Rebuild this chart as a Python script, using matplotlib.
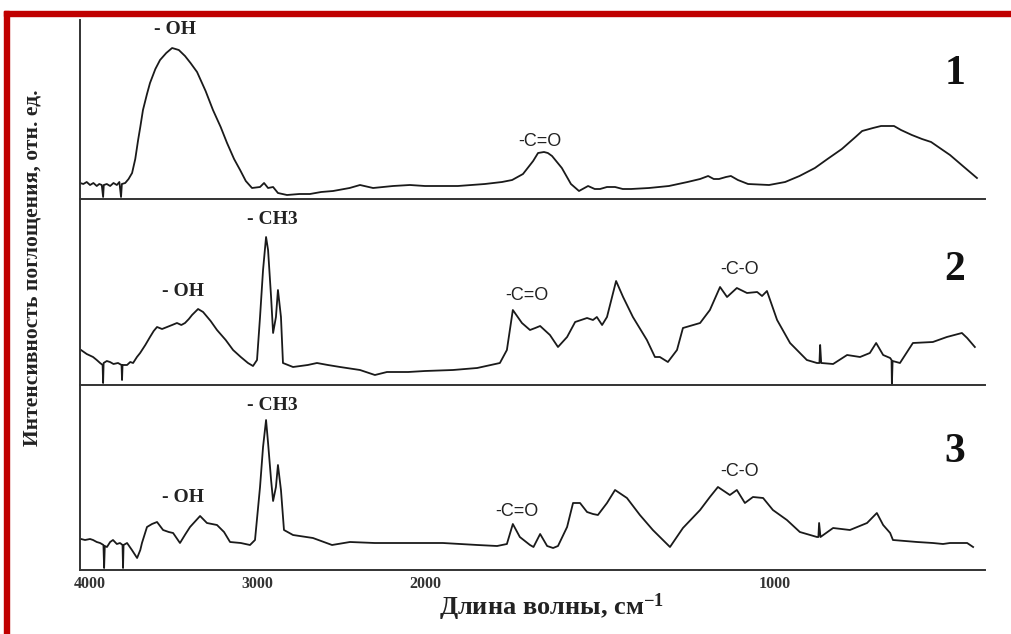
import numpy as np
import matplotlib
matplotlib.use('Agg')
import matplotlib.pyplot as plt
from matplotlib.patches import Rectangle

plt.rcParams['font.family'] = ['Liberation Serif', 'DejaVu Serif']
plt.rcParams['mathtext.fontset'] = 'custom'
plt.rcParams['mathtext.rm'] = 'Liberation Serif:bold'
plt.rcParams['mathtext.default'] = 'rm'

# spectrum 1 (wavenumber, cm-1 / absorbance, rel. units)
wn1 = [4060, 4040, 4020, 4000, 3980, 3960, 3945, 3930, 3922, 3918, 3900, 3880, 3860, 3840,
       3825, 3815, 3810, 3790, 3770, 3749, 3730, 3713, 3700, 3684, 3660, 3642, 3610, 3582,
       3545, 3510, 3470, 3433, 3400, 3361, 3310, 3266, 3220, 3182, 3140, 3104, 3070, 3033,
       2985, 2961, 2937, 2907, 2878, 2824, 2750, 2687, 2620, 2549, 2450, 2388, 2310, 2191,
       2090, 2000, 1906, 1829, 1780, 1751, 1720, 1691, 1677, 1660, 1649, 1637, 1609, 1583,
       1560, 1534, 1515, 1500, 1480, 1457, 1435, 1411, 1360, 1303, 1250, 1214, 1191, 1175,
       1160, 1140, 1126, 1106, 1077, 1017, 971, 930, 886, 850, 809, 770, 751, 720, 697, 660,
       640, 609, 580, 554, 525, 500, 460, 423]
ab1 = [16, 15, 17, 14, 16, 13, 15, 14, 2, 14, 15, 13, 16, 14,
       17, 2, 15, 16, 20, 26, 40, 59, 72, 89, 105, 116, 130, 139,
       146, 151, 149, 143, 136, 127, 108, 89, 72, 56, 40, 29, 18, 11,
       12, 16, 11, 12, 6, 4, 5, 5, 7, 8, 11, 14, 11, 13,
       14, 13, 13, 15, 17, 19, 25, 38, 46, 47, 46, 43, 31, 15,
       8, 13, 10, 10, 12, 12, 10, 10, 11, 13, 17, 20, 23, 20,
       20, 22, 23, 19, 15, 14, 17, 23, 31, 40, 50, 62, 68, 71, 73, 73,
       69, 64, 60, 57, 50, 44, 32, 21]

# spectrum 2
wn2 = [4054, 4020, 3982, 3960, 3940, 3925, 3922, 3919, 3900, 3881, 3860, 3833, 3812, 3809,
       3806, 3779, 3760, 3743, 3720, 3701, 3670, 3642, 3620, 3600, 3570, 3540, 3510, 3481,
       3455, 3433, 3410, 3391, 3355, 3325, 3280, 3242, 3190, 3146, 3100, 3057, 3027, 3003,
       2985, 2967, 2949, 2937, 2919, 2907, 2890, 2878, 2860, 2848, 2788, 2700, 2645, 2580,
       2507, 2388, 2299, 2227, 2100, 2000, 1920, 1851, 1786, 1766, 1749, 1723, 1700, 1685,
       1671, 1643, 1620, 1594, 1571, 1537, 1520, 1509, 1494, 1480, 1454, 1434, 1406, 1366,
       1343, 1329, 1306, 1280, 1263, 1214, 1186, 1157, 1137, 1109, 1080, 1051, 1037, 1023,
       994, 957, 909, 880, 873, 871, 868, 834, 794, 757, 729, 711, 691, 671, 667, 666, 664,
       643, 606, 549, 509, 466, 451, 429]
ab2 = [35, 31, 28, 25, 22, 20, 2, 22, 24, 23, 21, 22, 20, 5,
       20, 20, 23, 22, 28, 32, 40, 48, 54, 58, 56, 58, 60, 62,
       60, 62, 66, 70, 76, 73, 64, 55, 45, 35, 28, 22, 19, 25,
       68, 115, 148, 135, 88, 52, 68, 95, 68, 22, 18, 20, 22, 20,
       18, 15, 10, 13, 13, 14, 15, 17, 22, 35, 75, 62, 55, 57,
       59, 50, 38, 48, 63, 67, 65, 68, 60, 68, 104, 88, 68, 45,
       28, 28, 23, 35, 57, 62, 75, 98, 88, 97, 92, 93, 89, 94,
       65, 42, 25, 22, 22, 40, 22, 21, 30, 28, 32, 42, 30, 27, 25, 0, 24,
       22, 42, 43, 48, 52, 47, 38]

# spectrum 3
wn3 = [4054, 4030, 4000, 3982, 3960, 3940, 3920, 3916, 3912, 3899, 3880, 3863, 3840, 3821,
       3806, 3803, 3800, 3779, 3750, 3719, 3700, 3690, 3660, 3630, 3600, 3564, 3530, 3504,
       3463, 3430, 3403, 3343, 3302, 3242, 3200, 3164, 3100, 3045, 3015, 2985, 2967, 2949,
       2937, 2919, 2907, 2890, 2878, 2860, 2842, 2788, 2669, 2555, 2448, 2300, 2191, 2050,
       1949, 1850, 1794, 1766, 1749, 1729, 1700, 1690, 1671, 1651, 1634, 1620, 1594, 1577,
       1557, 1537, 1520, 1506, 1480, 1457, 1423, 1386, 1349, 1300, 1263, 1214, 1186, 1163,
       1129, 1109, 1086, 1063, 1034, 1006, 966, 929, 880, 876, 874, 870, 834, 786, 737, 709,
       691, 671, 663, 594, 549, 520, 500, 451, 434]
ab3 = [31, 30, 31, 30, 28, 27, 25, 2, 24, 23, 28, 30, 26, 27,
       25, 2, 25, 27, 20, 12, 20, 27, 43, 46, 48, 40, 38, 37,
       27, 36, 43, 54, 47, 45, 38, 28, 27, 25, 30, 83, 123, 150,
       127, 90, 69, 83, 105, 80, 40, 35, 32, 25, 28, 27, 27, 27,
       27, 25, 24, 26, 46, 33, 25, 23, 36, 24, 22, 24, 43, 67,
       67, 58, 56, 55, 67, 80, 72, 55, 40, 23, 42, 60, 73, 83,
       75, 80, 67, 73, 72, 60, 50, 38, 33, 33, 47, 33, 42, 40, 47, 57,
       45, 37, 30, 28, 27, 26, 27, 27, 23]

ticks = [4000, 3000, 2000, 1000]

# labels: (text, wavenumber, height, style)
labels1 = [('- OH', 3493, 169, 'serif'), ('-C=O', 1671, 58, 'sans')]
labels2 = [('- CH3', 2913, 166, 'serif'), ('- OH', 3445, 93, 'serif'),
           ('-C=O', 1709, 89, 'sans'), ('-C-O', 1100, 115, 'sans')]
labels3 = [('- CH3', 2913, 165, 'serif'), ('- OH', 3445, 73, 'serif'),
           ('-C=O', 1737, 58, 'sans'), ('-C-O', 1100, 98, 'sans')]


# x axis is stretched twice below 2000 cm-1
def fwd(w):
    w = np.asarray(w, dtype=float)
    return np.where(w >= 2000, w, 2000 - 2.09 * (2000 - w))


def inv(t):
    t = np.asarray(t, dtype=float)
    return np.where(t >= 2000, t, 2000 - (2000 - t) / 2.09)


W, H = 1011, 634
fig = plt.figure(figsize=(W / 100, H / 100), dpi=100)

# panels in pixels: (top, bottom)
panels = [(20, 199), (199, 385), (385, 570)]
data = [(wn1, ab1, labels1, '1', 125), (wn2, ab2, labels2, '2', 115), (wn3, ab3, labels3, '3', 118)]

x0, x1 = 80, 985
for i, ((top, bot), (wn, ab, labs, num, num_h)) in enumerate(zip(panels, data)):
    ax = fig.add_axes([x0 / W, 1 - bot / H, (x1 - x0) / W, (bot - top) / H])
    ax.set_xscale('function', functions=(fwd, inv))
    ax.set_xlim(4060, 400)
    ax.set_ylim(0, bot - top)
    ax.plot(wn, ab, color='#1a1a1a', lw=1.3)
    for s in ['top', 'right']:
        ax.spines[s].set_visible(False)
    for s in ['left', 'bottom']:
        ax.spines[s].set_color('#333333')
        ax.spines[s].set_linewidth(1.4)
    ax.set_yticks([])
    ax.set_xticks(ticks)
    ax.minorticks_off()
    if i < 2:
        ax.tick_params(axis='x', length=0, labelbottom=False)
    else:
        ax.set_xticklabels([str(t) for t in ticks], fontsize=11.5, fontweight='bold', color='#333333')
        ax.tick_params(axis='x', length=0, pad=4)
    for txt, w, h, st in labs:
        if st == 'serif':
            ax.text(w, h, txt, ha='center', va='center', fontsize=14, fontweight='bold',
                    family=['Liberation Serif'], color='#222222')
        else:
            ax.text(w, h, txt, ha='center', va='center', fontsize=13,
                    family=['Liberation Sans'], color='#222222')
    ax.text(486, num_h, num, ha='center', va='center', fontsize=30, fontweight='bold',
            family=['Liberation Serif'], color='#111111')
    ax.patch.set_alpha(0)

fig.text(33 / W, 1 - 268 / H, 'Интенсивность поглощения, отн. ед.', rotation=90,
         ha='center', va='center', fontsize=15.5, fontweight='bold', color='#222222')
fig.text(551 / W, 1 - 607 / H, 'Длина волны, см$^{-1}$', ha='center', va='center',
         fontsize=19, fontweight='bold', color='#222222')

# red frame
red = '#c00000'
fig.patches.append(Rectangle((4 / W, 0), 5 / W, 1 - 11 / H, transform=fig.transFigure,
                             color=red, zorder=5))
fig.patches.append(Rectangle((4 / W, 1 - 16 / H), 1, 5 / H, transform=fig.transFigure,
                             color=red, zorder=5))

fig.savefig('out.png', dpi=100)
